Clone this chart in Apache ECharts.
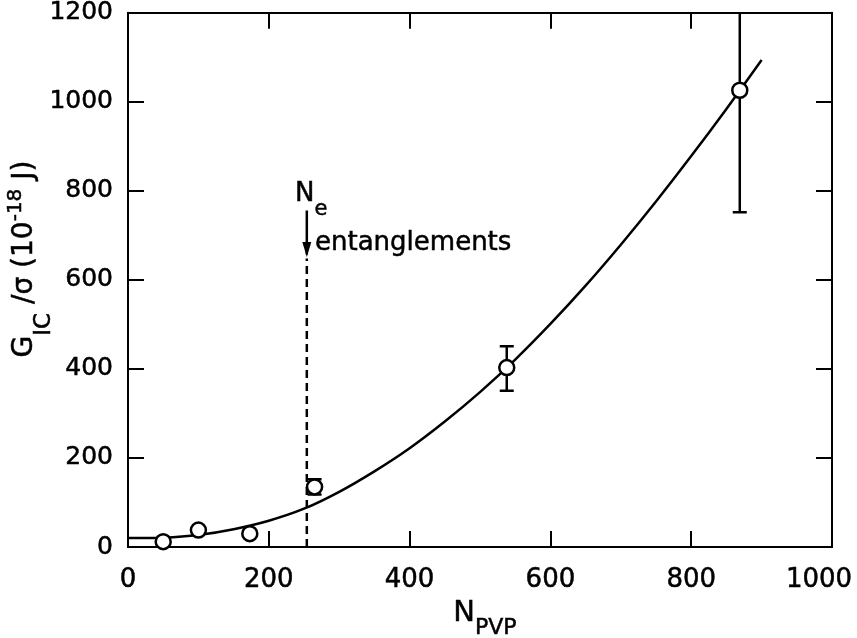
<!DOCTYPE html>
<html>
<head>
<meta charset="utf-8">
<script src="https://cdn.jsdelivr.net/npm/echarts@6/dist/echarts.min.js"></script>
<style>
  html, body { margin: 0; padding: 0; background: #fff; }
  #chart { width: 857px; height: 638px; }
</style>
</head>
<body>
<div id="chart"></div>
<script>
// ---- data ----
const xTicks = [0, 200, 400, 600, 800, 1000];
const yTicks = [0, 200, 400, 600, 800, 1000, 1200];

// measured points [N_PVP, G_IC/sigma]
const pointsX = [50, 100, 173, 265, 538, 869];
const pointsY = [12, 38, 30, 135, 403, 1026];

// error bars [N_PVP, low, high]
const errX = [265, 538, 869];
const errLow = [118, 351, 752];
const errHigh = [152, 451, 1300];

// fitted curve
const curveX = [0, 50, 100, 150, 200, 250, 300, 350, 400, 450, 500, 550, 600, 650, 700, 750, 800, 850, 900];
const curveY = [20, 21, 27, 40, 59, 86, 124, 170, 222, 282, 348, 421, 501, 587, 679, 776, 878, 984, 1094];

// entanglement annotation
const Ne = 254;
const dashTop = 648;
const arrowTop = 756;
const arrowTip = 657;

const FONT = 'DejaVu Sans';
const TB = { textBorderColor: '#000', textBorderWidth: 0.5 };
const GS = { stroke: '#000', lineWidth: 0.5 };
const chart = echarts.init(document.getElementById('chart'), null, { renderer: 'canvas' });

const xMin = xTicks[0], xMax = xTicks[xTicks.length - 1], xInt = xTicks[1] - xTicks[0];
const yMin = yTicks[0], yMax = yTicks[yTicks.length - 1], yInt = yTicks[1] - yTicks[0];

const axisCommon = {
  axisLine: { show: true, onZero: false, lineStyle: { color: '#000', width: 2 } },
  axisTick: { show: true, inside: true, length: 16, lineStyle: { color: '#000', width: 2 } },
  splitLine: { show: false },
  minorTick: { show: false }
};

const option = {
  animation: false,
  backgroundColor: '#fff',
  grid: { left: 128, right: 25, top: 12, bottom: 91, containLabel: false },
  xAxis: [
    Object.assign({
      type: 'value', position: 'bottom', min: xMin, max: xMax, interval: xInt,
      axisLabel: Object.assign({
        show: true, margin: 20, color: '#000', fontFamily: FONT, fontSize: 26,
        formatter: function (v) { return v === xMax ? '{r|' + v + '}' : String(v); },
        rich: { r: Object.assign({ fontFamily: FONT, fontSize: 26, color: '#000', padding: [0, 26, 0, 0] }, TB) }
      }, TB)
    }, axisCommon),
    Object.assign({
      type: 'value', position: 'top', min: xMin, max: xMax, interval: xInt,
      axisLabel: { show: false }
    }, axisCommon)
  ],
  yAxis: [
    Object.assign({
      type: 'value', position: 'left', min: yMin, max: yMax, interval: yInt,
      axisLabel: Object.assign({
        show: true, margin: 15, color: '#000', fontFamily: FONT, fontSize: 25,
        padding: [6, 0, 0, 0],
        formatter: function (v) { return String(v); }
      }, TB)
    }, axisCommon),
    Object.assign({
      type: 'value', position: 'right', min: yMin, max: yMax, interval: yInt,
      axisLabel: { show: false }
    }, axisCommon)
  ],
  series: [
    {
      type: 'custom',
      name: 'errors',
      xAxisIndex: 0, yAxisIndex: 0,
      clip: true,
      z: 2,
      data: errX.map((x, i) => [x, errLow[i], errHigh[i]]),
      encode: { x: 0, y: [1, 2] },
      renderItem: function (params, api) {
        const x = api.value(0);
        const lo = api.coord([x, api.value(1)]);
        const hi = api.coord([x, api.value(2)]);
        const w = 7;
        const st = { stroke: '#000', lineWidth: 2.5, fill: null };
        return {
          type: 'group',
          children: [
            { type: 'line', shape: { x1: lo[0], y1: lo[1], x2: hi[0], y2: hi[1] }, style: st },
            { type: 'line', shape: { x1: lo[0] - w, y1: lo[1], x2: lo[0] + w, y2: lo[1] }, style: st },
            { type: 'line', shape: { x1: hi[0] - w, y1: hi[1], x2: hi[0] + w, y2: hi[1] }, style: st }
          ]
        };
      }
    },
    {
      type: 'line',
      name: 'Ne dashed',
      xAxisIndex: 0, yAxisIndex: 0,
      z: 2,
      symbol: 'none',
      silent: true,
      lineStyle: { color: '#000', width: 2.5, type: [8, 5] },
      data: [[Ne, 0], [Ne, dashTop]]
    },
    {
      type: 'line',
      name: 'Ne arrow',
      xAxisIndex: 0, yAxisIndex: 0,
      z: 2,
      silent: true,
      showSymbol: true,
      symbol: 'none',
      lineStyle: { color: '#000', width: 2.5 },
      itemStyle: { color: '#000' },
      data: [
        { value: [Ne, arrowTop], symbol: 'none' },
        { value: [Ne, arrowTip], symbol: 'triangle', symbolSize: [9, 15], symbolRotate: 180, symbolOffset: [0, -5] }
      ]
    },
    {
      type: 'line',
      name: 'fit',
      xAxisIndex: 0, yAxisIndex: 0,
      z: 3,
      smooth: 0.3,
      showSymbol: false,
      symbol: 'none',
      lineStyle: { color: '#000', width: 2.5 },
      data: curveX.map((x, i) => [x, curveY[i]])
    },
    {
      type: 'scatter',
      name: 'data',
      xAxisIndex: 0, yAxisIndex: 0,
      z: 4,
      symbol: 'circle',
      symbolSize: 15,
      itemStyle: { color: '#fff', borderColor: '#000', borderWidth: 2.5, opacity: 1 },
      data: pointsX.map((x, i) => [x, pointsY[i]])
    }
  ],
  graphic: [
    {
      type: 'text',
      x: 25, y: 259,
      rotation: Math.PI / 2,
      style: {
        text: '{m|G}{s|IC}{m| /σ (10}{p|-18}{m| J)}',
        align: 'center',
        verticalAlign: 'middle',
        fill: '#000',
        rich: {
          m: Object.assign({ fontFamily: FONT, fontSize: 28, lineHeight: 62, verticalAlign: 'middle', fill: '#000' }, GS),
          s: Object.assign({ fontFamily: FONT, fontSize: 23, lineHeight: 23, verticalAlign: 'bottom', fill: '#000' }, GS),
          p: Object.assign({ fontFamily: FONT, fontSize: 20, lineHeight: 20, verticalAlign: 'middle', padding: [0, 0, 18, 0], fill: '#000' }, GS)
        }
      }
    },
    {
      type: 'text',
      x: 485, y: 613,
      style: {
        text: '{m|N}{s|PVP}',
        align: 'center',
        verticalAlign: 'middle',
        fill: '#000',
        rich: {
          m: Object.assign({ fontFamily: FONT, fontSize: 29, lineHeight: 52, verticalAlign: 'middle', fill: '#000' }, GS),
          s: Object.assign({ fontFamily: FONT, fontSize: 22, lineHeight: 22, verticalAlign: 'bottom', fill: '#000' }, GS)
        }
      }
    },
    {
      type: 'text',
      x: 295, y: 194,
      style: {
        text: '{m|N}{s|e}',
        align: 'left',
        verticalAlign: 'middle',
        fill: '#000',
        rich: {
          m: Object.assign({ fontFamily: FONT, fontSize: 26, lineHeight: 52, verticalAlign: 'middle', fill: '#000' }, GS),
          s: Object.assign({ fontFamily: FONT, fontSize: 21, lineHeight: 21, verticalAlign: 'bottom', fill: '#000' }, GS)
        }
      }
    },
    {
      type: 'text',
      x: 315, y: 243,
      style: Object.assign({
        text: 'entanglements',
        fontFamily: FONT, fontSize: 26,
        align: 'left', verticalAlign: 'middle', fill: '#000'
      }, GS)
    }
  ]
};

chart.setOption(option);
</script>
</body>
</html>
